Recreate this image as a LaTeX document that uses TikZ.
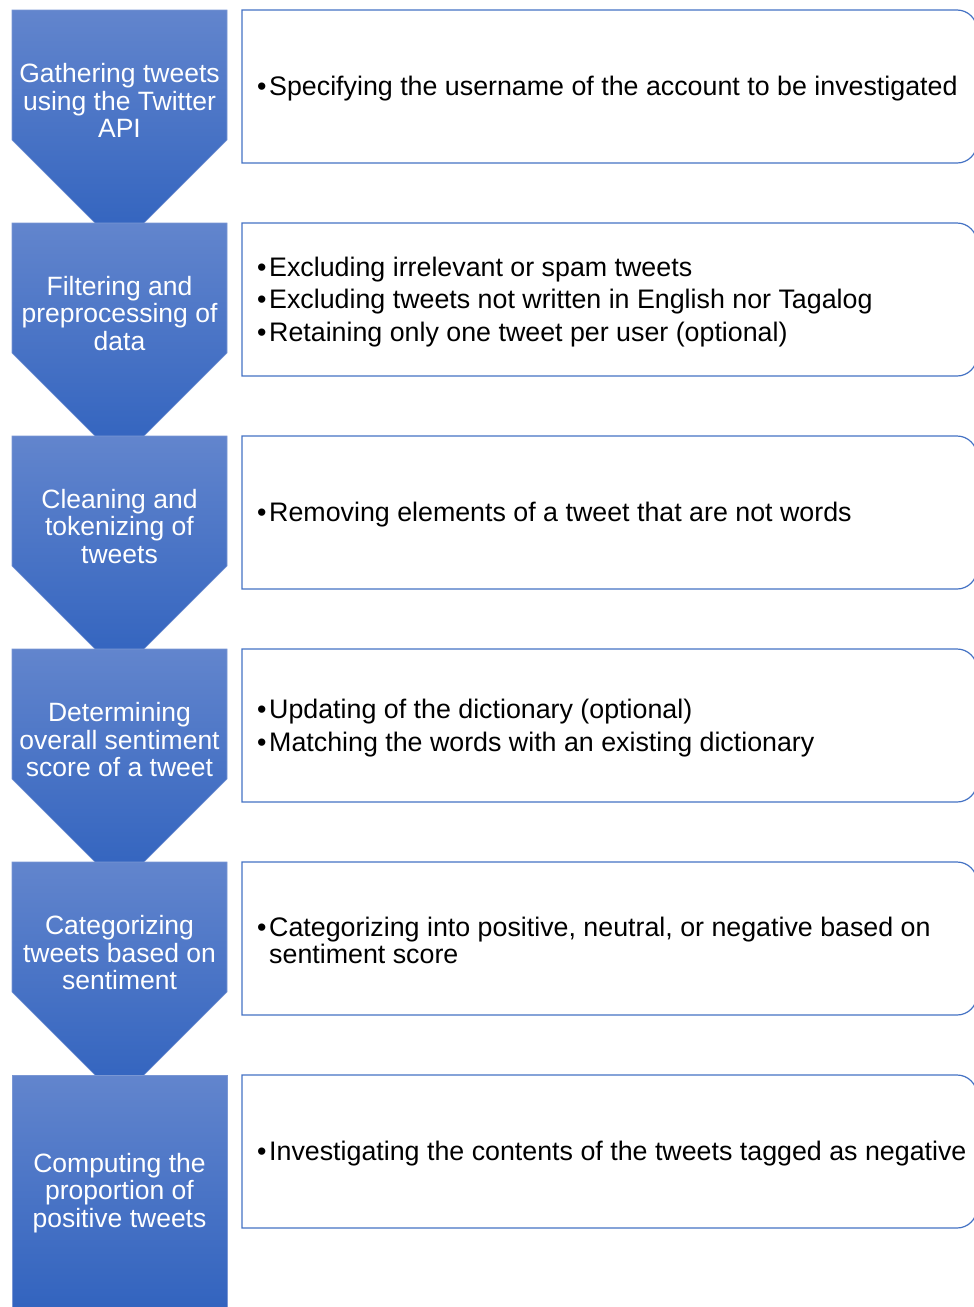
\documentclass[tikz,border=0pt]{standalone}
\usepackage{fontspec}
\setmainfont{Liberation Sans}
\definecolor{StepTop}{RGB}{98,133,205}
\definecolor{StepBot}{RGB}{48,98,190}
\definecolor{BoxLine}{RGB}{68,114,196}
\usetikzlibrary{positioning}
\newcommand{\bul}{\makebox[12pt][l]{\textbullet}}

\begin{document}
\begin{tikzpicture}[x=1pt, y=-1pt,
      every node/.style={font=\fontsize{26.5}{27.5}\selectfont, inner sep=0pt},
      steptxt/.style   ={text=white, align=center},
      detail/.style    ={anchor=west, align=left, font=\fontsize{26.8}{27.5}\selectfont},
      chev/.style      ={top color=StepTop, bottom color=StepBot, draw=StepTop!85!white, line width=0.6pt},
      detbox/.style    ={draw=BoxLine, line width=1.2pt, fill=white},
  ]
  \useasboundingbox (0,0) rectangle (974,1307);
  \clip (0,0) rectangle (974,1307);

  % ─ Step chevrons (left column) ─
  \foreach \y in {10,223,436,649,862}
    \path[chev] (12,\y) -- (227,\y) -- (227,\y+130) -- (119.5,\y+237.5) -- (12,\y+130) -- cycle;
  \path[chev] (12,1075) rectangle (227,1320);

  % ─ Detail boxes (right column) ─
  \foreach \y in {10,223,436,649,862,1075}
    \draw[detbox] (242,\y) [rounded corners=20pt] -- (977,\y) -- (977,\y+153) [sharp corners] -- (242,\y+153) -- cycle;

  % ─ Step labels ─
  \node[steptxt] (gather) at (119.5,100.5)  {Gathering tweets\\using the Twitter\\API};
  \node[steptxt] (filter) at (119.5,313.5)  {Filtering and\\preprocessing of\\data};
  \node[steptxt] (clean)  at (119.5,526.5)  {Cleaning and\\tokenizing of\\tweets};
  \node[steptxt] (score)  at (119.5,740)    {Determining\\overall sentiment\\score of a tweet};
  \node[steptxt] (categ)  at (119.5,953)    {Categorizing\\tweets based on\\sentiment};
  \node[steptxt] (propor) at (119.5,1193)   {Computing the\\proportion of\\positive tweets};

  % ─ Details ─
  \node[detail] (gatherd) at (257,89)
        {\bul Specifying the username of the account to be investigated};
  \node[detail] (filterd) at (257,302)
        {\bul Excluding irrelevant or spam tweets\\[5pt]
         \bul Excluding tweets not written in English nor Tagalog\\[5pt]
         \bul Retaining only one tweet per user (optional)};
  \node[detail] (cleand)  at (257,515)
        {\bul Removing elements of a tweet that are not words};
  \node[detail] (scored)  at (257,728)
        {\bul Updating of the dictionary (optional)\\[5pt]
         \bul Matching the words with an existing dictionary};
  \node[detail] (categd)  at (257,940.5)
        {\bul Categorizing into positive, neutral, or negative based on\\
         \hspace*{12pt}sentiment score};
  \node[detail] (propord) at (257,1154)
        {\bul Investigating the contents of the tweets tagged as negative};
\end{tikzpicture}
\end{document}
